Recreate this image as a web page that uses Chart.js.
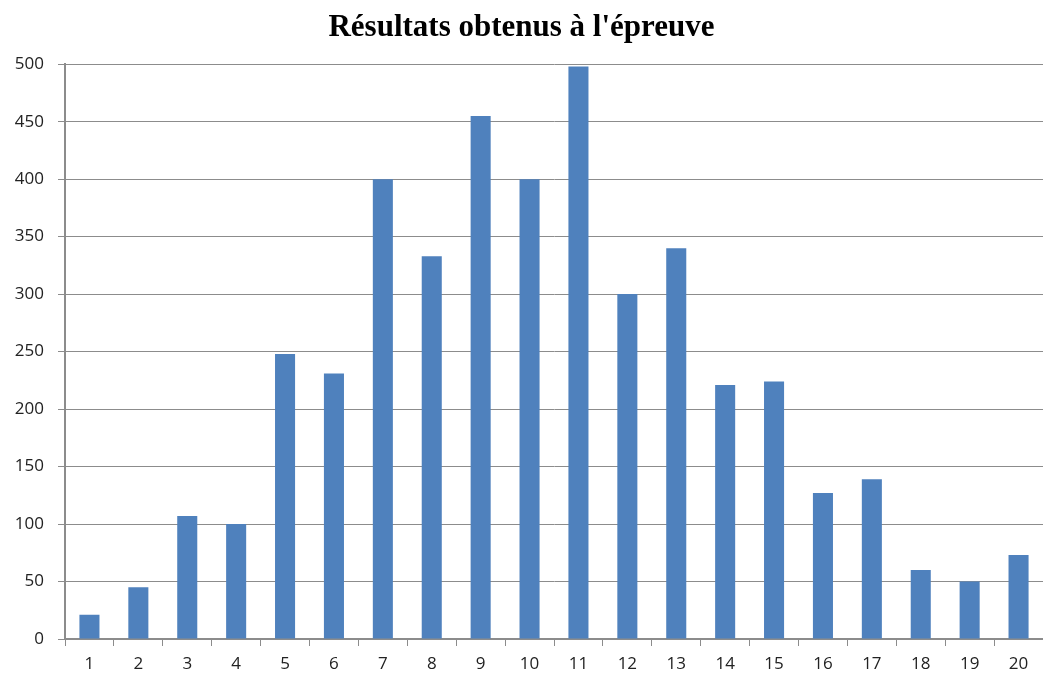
<!DOCTYPE html>
<html>
<head>
<meta charset="utf-8">
<script src="https://cdn.jsdelivr.net/npm/chart.js@4/dist/chart.umd.min.js"></script>
<style>
  html, body { margin: 0; padding: 0; background: #fff; }
  #wrap { width: 1043px; height: 677px; }
</style>
</head>
<body>
<div id="wrap"><canvas id="result"></canvas></div>
<script>
const titre = "Résultats obtenus à l'épreuve";
const notes = ['1','2','3','4','5','6','7','8','9','10','11','12','13','14','15','16','17','18','19','20'];
const effectifs = [21, 45, 107, 100, 248, 231, 400, 333, 455, 400, 498, 300, 340, 221, 224, 127, 139, 60, 50, 73];
const yTicks = [0, 50, 100, 150, 200, 250, 300, 350, 400, 450, 500];

const gris = '#8c8c8c';
const tickFont = { family: "'Open Sans', 'DejaVu Sans', sans-serif", size: 17 };

const ctx = document.getElementById('result').getContext('2d');
new Chart(ctx, {
    type: 'bar',
    data: {
        labels: notes,
        datasets: [{
            data: effectifs,
            backgroundColor: '#4f81bd',
            borderWidth: 0,
            categoryPercentage: 1,
            barPercentage: 0.41
        }]
    },
    options: {
        responsive: true,
        maintainAspectRatio: false,
        animation: false,
        layout: { padding: { left: 0, right: 0, top: 6, bottom: 0 } },
        plugins: {
            legend: { display: false },
            tooltip: { enabled: false },
            title: {
                display: true,
                text: titre,
                color: '#000',
                font: { family: "'Liberation Serif', 'Times New Roman', serif", size: 31, weight: 'bold' },
                padding: { top: 3, bottom: 18 }
            }
        },
        scales: {
            x: {
                offset: true,
                afterFit: axis => { axis.height = 38; },
                grid: { offset: true, drawOnChartArea: false, drawTicks: true, tickLength: 7, color: gris, lineWidth: 1 },
                border: { color: gris, width: 2 },
                ticks: { color: '#222', font: tickFont, padding: 8, maxRotation: 0 }
            },
            y: {
                min: 0,
                max: 500,
                afterBuildTicks: axis => { axis.ticks = yTicks.map(v => ({ value: v })); },
                afterFit: axis => { axis.width = 65; },
                grid: { color: gris, lineWidth: 1, tickLength: 7 },
                border: { color: gris, width: 2 },
                ticks: { color: '#222', font: tickFont, padding: 14 }
            }
        }
    }
});
</script>
</body>
</html>
